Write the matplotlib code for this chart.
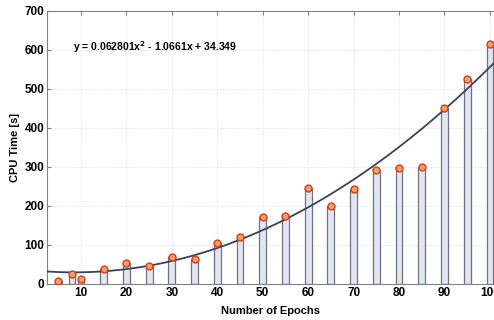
import numpy as np
import matplotlib
matplotlib.use("Agg")
import matplotlib.pyplot as plt

# CPU time per number of epochs
epochs = [5, 8, 10, 15, 20, 25, 30, 35, 40, 45, 50, 55, 60, 65, 70, 75, 80, 85, 90, 95, 100]
cpu_time = [8, 25, 14, 39, 54, 47, 69, 64, 104, 120, 172, 173, 246, 201, 243, 292, 298, 299, 450, 526, 614]

# quadratic fit coefficients shown on the chart
fit_coef = [0.062801, -1.0661, 34.349]

plt.rcParams['font.family'] = ['Liberation Sans', 'DejaVu Sans']
plt.rcParams['font.weight'] = 'bold'

fig = plt.figure(figsize=(4.94, 3.2), dpi=100)
ax = fig.add_axes([0.095, 0.1125, 0.905, 0.854])

ax.bar(epochs, cpu_time, width=1.5, color='#e2e6f3', edgecolor='#707080', linewidth=0.9, zorder=2)
ax.plot(epochs, cpu_time, 'o', ms=5, mfc='#f0a060', mec='#d04020', mew=1.0, zorder=4)

xs = np.linspace(2.5, 101, 200)
ax.plot(xs, np.polyval(fit_coef, xs), color='#3a4060', lw=1.3, zorder=3)

ax.text(8.3, 608, 'y = 0.062801x$^\\mathbf{2}$ - 1.0661x + 34.349', fontsize=7.5,
        fontweight='bold', va='center', ha='left')

ax.set_xlim(2.5, 100.9)
ax.set_ylim(0, 700)
ax.set_xticks(range(10, 101, 10))
ax.set_yticks(range(0, 701, 100))
ax.tick_params(direction='in', top=True, right=False, length=3, labelsize=8.5, color='#808080', pad=2)
for lab in ax.get_xticklabels() + ax.get_yticklabels():
    lab.set_fontweight('bold')
ax.grid(True, linestyle=':', color='#dcdce4', linewidth=0.7, zorder=0)
for s in ['left', 'top', 'bottom']:
    ax.spines[s].set_color('#808080')
ax.spines['right'].set_visible(False)

ax.set_xlabel('Number of Epochs', fontsize=8, fontweight='bold', labelpad=5)
ax.set_ylabel('CPU Time [s]', fontsize=8, fontweight='bold', labelpad=3)

fig.savefig('out.png', dpi=100)
